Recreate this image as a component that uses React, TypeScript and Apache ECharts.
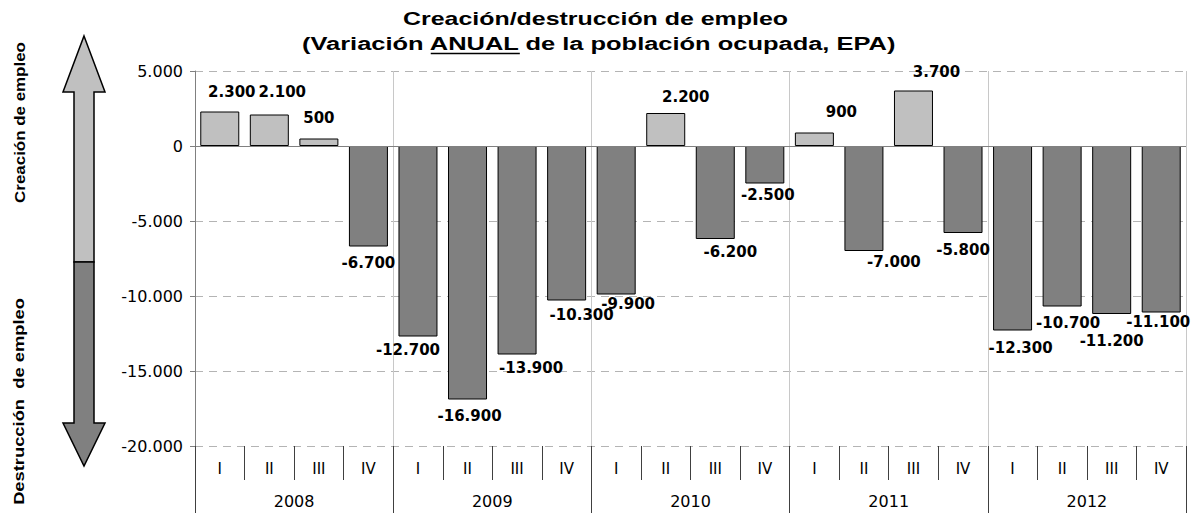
import React, { useEffect, useRef } from "react";
import * as echarts from "echarts";

const quarterLabels = ["I", "II", "III", "IV", "I", "II", "III", "IV", "I", "II", "III", "IV", "I", "II", "III", "IV", "I", "II", "III", "IV"];
const yearLabels = ["2008", "2009", "2010", "2011", "2012"];
const employmentChange = [
  2300, 2100, 500, -6700,
  -12700, -16900, -13900, -10300,
  -9900, 2200, -6200, -2500,
  900, -7000, 3700, -5800,
  -12300, -10700, -11200, -11100,
];
const yMin = -20000;
const yMax = 5000;
const yStep = 5000;

const titleLine1 = "Creación/destrucción de empleo";
const titleLine2a = "(Variación ";
const titleLine2b = "ANUAL";
const titleLine2c = " de la población ocupada, EPA)";
const sideTop = "Creación de empleo";
const sideBottom = "Destrucción  de empleo";

// label nudges [dx, dy] in pixels (style only, mimics the hand-placed labels)
const labelNudge: number[][] = [
  [12, -2], [13, -5], [0, -3], [0, -1],
  [-10, -4], [2, -1], [14, -4], [15, -3],
  [12, -8], [20, 1.5], [15, -4.5], [3, -6],
  [27, -3], [30, -6.5], [23, -1], [0, -0.5],
  [8, 0], [6, -1], [0, 9.5], [-3, -8],
];

function fmt(v: number): string {
  const s = Math.abs(v).toString().replace(/\B(?=(\d{3})+(?!\d))/g, ".");
  return (v < 0 ? "-" : "") + s;
}

export default function App() {
  const ref = useRef<HTMLDivElement>(null);
  useEffect(() => {
    if (!ref.current) return;
    const chart = echarts.init(ref.current, null, { renderer: "svg" });
    const cv = document.createElement("canvas");
    const ctx = cv.getContext("2d")!;
    const measure = (font: string, t: string) => {
      ctx.font = font;
      return ctx.measureText(t).width;
    };
    const titleFont = 'bold 19px "Liberation Sans"';
    const full2 = titleLine2a + titleLine2b + titleLine2c;
    const s1 = 385 / measure(titleFont, titleLine1);
    const s2 = 595 / measure(titleFont, full2);
    const left2 = 302;
    const ux1 = left2 + measure(titleFont, titleLine2a) * s2;
    const ux2 = left2 + measure(titleFont, titleLine2a + titleLine2b) * s2;
    const sideFont = 'bold 18px "Liberation Sans"';
    const sTop = 161 / measure(sideFont, sideTop);
    const sBot = 207 / measure(sideFont, sideBottom);

    const data = employmentChange.map((v, i) => ({
      value: v,
      itemStyle: { color: v >= 0 ? "#c0c0c0" : "#808080" },
      label: {
        position: v >= 0 ? "top" : "bottom",
        offset: labelNudge[i] || [0, 0],
      },
    }));

    const option: any = {
      animation: false,
      textStyle: { fontFamily: "Liberation Sans" },
      grid: { left: 195, right: 13, top: 71, bottom: 67, containLabel: false },
      xAxis: [
        {
          type: "category",
          data: quarterLabels,
          position: "bottom",
          offset: 0,
          axisLine: { show: false, onZero: false },
          axisTick: { show: true, interval: 0, length: 34, lineStyle: { color: "#404040" } },
          axisLabel: { interval: 0, margin: 15, fontSize: 15, fontFamily: "DejaVu Sans", color: "#000" },
          splitLine: { show: false },
        },
        {
          type: "category",
          data: yearLabels,
          position: "bottom",
          offset: 0,
          axisLine: { show: false, onZero: false },
          axisTick: { show: true, interval: 0, length: 67, lineStyle: { color: "#404040" } },
          axisLabel: { interval: 0, margin: 47, fontSize: 16, fontFamily: "DejaVu Sans", color: "#000" },
          splitLine: { show: true, lineStyle: { color: "#c8c8c8", width: 1 } },
        },
      ],
      yAxis: {
        type: "value",
        min: yMin,
        max: yMax,
        interval: yStep,
        axisLine: { show: true, lineStyle: { color: "#808080" } },
        axisTick: { show: true, length: 5, lineStyle: { color: "#808080" } },
        axisLabel: { formatter: (v: number) => fmt(v), fontSize: 16, fontFamily: "DejaVu Sans", color: "#000", margin: 12 },
        splitLine: { show: true, lineStyle: { color: "#b4b4b4", type: [8, 6] } },
      },
      series: [
        {
          type: "bar",
          xAxisIndex: 0,
          data,
          barWidth: 39,
          itemStyle: { borderColor: "#000", borderWidth: 1 },
          label: {
            show: true,
            formatter: (p: any) => fmt(p.value),
            fontFamily: "DejaVu Sans",
            fontWeight: "bold",
            fontSize: 15,
            color: "#000",
            distance: 10,
          },
          markLine: {
            silent: true,
            symbol: ["none", "none"],
            label: { show: false },
            lineStyle: { color: "#808080", type: "solid", width: 1 },
            data: [{ yAxis: 0 }],
          },
        },
      ],
      graphic: [
        {
          type: "text",
          x: 595.5,
          y: 19,
          scaleX: s1,
          style: { text: titleLine1, fontSize: 19, fontWeight: "bold", fontFamily: "Liberation Sans", align: "center", verticalAlign: "middle", fill: "#000" },
        },
        {
          type: "text",
          x: left2,
          y: 44,
          scaleX: s2,
          style: { text: full2, fontSize: 19, fontWeight: "bold", fontFamily: "Liberation Sans", align: "left", verticalAlign: "middle", fill: "#000" },
        },
        {
          type: "line",
          shape: { x1: ux1, y1: 53.5, x2: ux2, y2: 53.5 },
          style: { stroke: "#000", lineWidth: 1.5 },
        },
        {
          type: "polygon",
          shape: { points: [[84, 36], [105, 92], [94, 92], [94, 262], [74, 262], [74, 92], [63, 92]] },
          style: { fill: "#c0c0c0", stroke: "#000", lineWidth: 1.5 },
        },
        {
          type: "polygon",
          shape: { points: [[74, 262], [94, 262], [94, 423], [105, 423], [84, 466], [63, 423], [74, 423]] },
          style: { fill: "#808080", stroke: "#000", lineWidth: 1.5 },
        },
        {
          type: "text",
          x: 19,
          y: 122.5,
          rotation: Math.PI / 2,
          scaleX: sTop,
          scaleY: 0.85,
          style: { text: sideTop, fontSize: 18, fontWeight: "bold", fontFamily: "Liberation Sans", align: "center", verticalAlign: "middle", fill: "#000" },
        },
        {
          type: "text",
          x: 19,
          y: 401.5,
          rotation: Math.PI / 2,
          scaleX: sBot,
          scaleY: 0.85,
          style: { text: sideBottom, fontSize: 18, fontWeight: "bold", fontFamily: "Liberation Sans", align: "center", verticalAlign: "middle", fill: "#000" },
        },
      ],
    };
    chart.setOption(option);
    return () => chart.dispose();
  }, []);
  return <div ref={ref} style={{ position: "fixed", left: 0, top: 0, width: 1199, height: 513, background: "#fff" }} />;
}
